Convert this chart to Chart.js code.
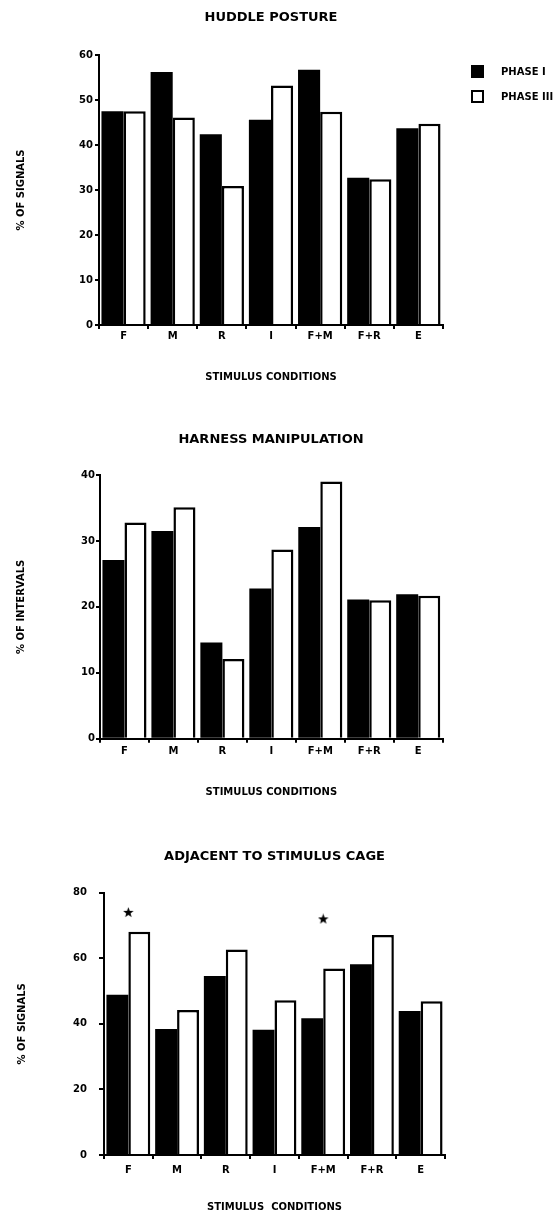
<!DOCTYPE html>
<html lang="en">
<head>
<meta charset="UTF-8">
<title>Stimulus Conditions</title>
<script src="https://cdn.jsdelivr.net/npm/chart.js"></script>
<style>
    body {
        margin: 0;
        background: #fff;
        font-family: "DejaVu Sans", sans-serif;
    }
    .page {
        position: relative;
        width: 555px;
        height: 1213px;
        overflow: hidden;
    }
    .box {
        position: absolute;
        left: 0;
    }
    .legend-item {
        position: absolute;
        left: 471px;
        font: bold 10px "DejaVu Sans", sans-serif;
        white-space: nowrap;
        line-height: 13px;
    }
    .legend-item span {
        display: inline-block;
        width: 13px;
        height: 13px;
        box-sizing: border-box;
        vertical-align: top;
        margin-right: 17px;
    }
</style>
</head>
<body>
<div class="page">
    <div class="box" id="box1"><canvas id="huddle"></canvas></div>
    <div class="box" id="box2"><canvas id="harness"></canvas></div>
    <div class="box" id="box3"><canvas id="cage"></canvas></div>

    <!-- legend of the top chart -->
    <div class="legend-item" style="top:65px"><span style="background:#000"></span>PHASE I</div>
    <div class="legend-item" style="top:90px"><span style="border:2px solid #000;background:#fff"></span>PHASE III</div>
</div>

<script>
    // categories and series
    const conditions = ['F', 'M', 'R', 'I', 'F+M', 'F+R', 'E'];
    const seriesNames = ['PHASE I', 'PHASE III'];

    // huddle posture (% of signals)
    const huddlePhase1 = [47.5, 56.2, 42.4, 45.6, 56.7, 32.7, 43.7];
    const huddlePhase3 = [47.5, 46.1, 30.9, 53.2, 47.4, 32.4, 44.7];

    // harness manipulation (% of intervals)
    const harnessPhase1 = [27.1, 31.5, 14.6, 22.8, 32.1, 21.1, 21.9];
    const harnessPhase3 = [32.8, 35.1, 12.1, 28.7, 39.0, 21.0, 21.7];

    // adjacent to stimulus cage (% of signals), stars mark significant differences
    const cagePhase1 = [48.9, 38.4, 54.6, 38.2, 41.7, 58.2, 43.9];
    const cagePhase3 = [68.1, 44.2, 62.7, 47.2, 56.9, 67.1, 46.9];
    const cageStars = [74, null, null, null, 72, null, null];

    // y axis ranges: [max, step]
    const huddleAxis = [60, 10];
    const harnessAxis = [40, 10];
    const cageAxis = [80, 20];

    Chart.defaults.font.family = '"DejaVu Sans", sans-serif';
    Chart.defaults.font.weight = 'bold';
    Chart.defaults.color = '#000';

    // small filled star used as point style
    function makeStar() {
        const c = document.createElement('canvas');
        c.width = 11;
        c.height = 11;
        const g = c.getContext('2d');
        g.beginPath();
        for (let i = 0; i < 10; i++) {
            const r = i % 2 === 0 ? 5.5 : 2.3;
            const a = -Math.PI / 2 + i * Math.PI / 5;
            const px = 5.5 + r * Math.cos(a), py = 5.8 + r * Math.sin(a);
            if (i === 0) g.moveTo(px, py); else g.lineTo(px, py);
        }
        g.closePath();
        g.fillStyle = '#000';
        g.fill();
        return c;
    }

    function makeChart(id, boxId, o) {
        const box = document.getElementById(boxId);
        box.style.top = o.top + 'px';
        box.style.width = o.width + 'px';
        box.style.height = o.height + 'px';

        const datasets = [
            {
                label: seriesNames[0],
                data: o.phase1,
                backgroundColor: '#000',
                borderWidth: 0,
                categoryPercentage: 0.9,
                barPercentage: 1.0
            },
            {
                label: seriesNames[1],
                data: o.phase3,
                backgroundColor: '#fff',
                borderColor: '#000',
                borderWidth: 2.5,
                borderSkipped: 'bottom',
                categoryPercentage: 0.9,
                barPercentage: 1.0
            }
        ];
        if (o.stars) {
            datasets.push({
                type: 'line',
                label: 'significant',
                data: o.stars,
                showLine: false,
                pointStyle: makeStar(),
                pointRadius: 5
            });
        }

        return new Chart(document.getElementById(id), {
            type: 'bar',
            data: { labels: conditions, datasets: datasets },
            options: {
                responsive: true,
                maintainAspectRatio: false,
                animation: false,
                layout: { padding: 0 },
                plugins: {
                    legend: { display: false },
                    tooltip: { enabled: false },
                    title: {
                        display: true,
                        text: o.title,
                        font: { size: 13, weight: 'bold' },
                        color: '#000',
                        padding: o.titlePad
                    }
                },
                scales: {
                    x: {
                        grid: { drawOnChartArea: false, tickLength: 4, color: '#000', lineWidth: 2 },
                        border: { display: true, color: '#000', width: 2 },
                        ticks: { font: { size: 10, weight: 'bold' }, padding: o.xTickPad, color: '#000' },
                        title: {
                            display: true,
                            text: o.xTitle,
                            font: { size: 10, weight: 'bold' },
                            color: '#000',
                            padding: o.xTitlePad
                        }
                    },
                    y: {
                        min: 0,
                        max: o.axis[0],
                        grid: { drawOnChartArea: false, tickLength: o.yTickLen, color: '#000', lineWidth: 2 },
                        border: { display: true, color: '#000', width: 2 },
                        ticks: { stepSize: o.axis[1], font: { size: 10, weight: 'bold' }, padding: o.yTickPad, color: '#000' },
                        title: {
                            display: true,
                            text: o.yTitle,
                            font: { size: 10, weight: 'bold' },
                            color: '#000',
                            padding: { top: o.yTitlePad, bottom: 0 }
                        },
                        afterFit: function (scale) { scale.width = o.yWidth; }
                    },
                    // empty right axis, only reserves space so the title centres over the plot
                    yRight: {
                        position: 'right',
                        min: 0,
                        max: o.axis[0],
                        grid: { display: false },
                        border: { display: false },
                        ticks: { display: false },
                        afterFit: function (scale) { scale.width = o.padRight; }
                    }
                }
            }
        });
    }

    makeChart('huddle', 'box1', {
        top: 0, height: 387, width: 542, yWidth: 99, padRight: 99,
        title: 'HUDDLE POSTURE', yTitle: '% OF SIGNALS', xTitle: 'STIMULUS CONDITIONS',
        phase1: huddlePhase1, phase3: huddlePhase3, axis: huddleAxis,
        titlePad: { top: 10.2, bottom: 29.2 }, xTickPad: 1, xTitlePad: { top: 28, bottom: 4 },
        yTickLen: 4, yTickPad: 2, yTitlePad: 15
    });

    makeChart('harness', 'box2', {
        top: 420, height: 382, width: 542, yWidth: 100, padRight: 99.3,
        title: 'HARNESS MANIPULATION', yTitle: '% OF INTERVALS', xTitle: 'STIMULUS CONDITIONS',
        phase1: harnessPhase1, phase3: harnessPhase3, axis: harnessAxis,
        titlePad: { top: 12.2, bottom: 27.2 }, xTickPad: 3, xTitlePad: { top: 25.3, bottom: 4 },
        yTickLen: 4, yTickPad: 1, yTitlePad: 15
    });

    makeChart('cage', 'box3', {
        top: 830, height: 383, width: 549, yWidth: 104, padRight: 104,
        title: 'ADJACENT TO STIMULUS CAGE', yTitle: '% OF SIGNALS', xTitle: 'STIMULUS  CONDITIONS',
        phase1: cagePhase1, phase3: cagePhase3, stars: cageStars, axis: cageAxis,
        titlePad: { top: 19.2, bottom: 27.9 }, xTickPad: 5, xTitlePad: { top: 20, bottom: 0 },
        yTickLen: 5, yTickPad: 12, yTitlePad: 16
    });
</script>
</body>
</html>
